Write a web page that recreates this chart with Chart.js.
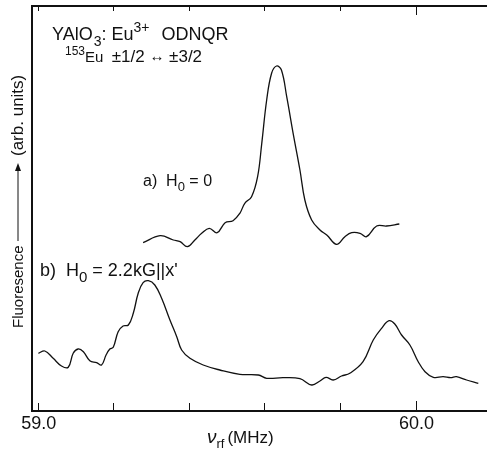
<!DOCTYPE html>
<html><head><meta charset="utf-8">
<script src="https://cdn.jsdelivr.net/npm/chart.js@4"></script>
<style>html,body{margin:0;padding:0;background:#fff}#c{display:block}</style>
</head><body>
<div style="width:487px;height:449px"><canvas id="c" width="487" height="449"></canvas></div>
<script>
// Curve a) H0 = 0 : frequency (MHz) and fluorescence (arb. units)
const freqA = [59.279,59.324,59.359,59.377,59.396,59.416,59.434,59.454,59.475,59.496,59.517,59.535,59.548,59.566,59.582,59.593,59.606,59.619,59.632,59.645,59.659,59.676,59.694,59.707,59.725,59.747,59.765,59.791,59.813,59.831,59.853,59.870,59.897,59.923,59.957];
const fluorA = [168.3,175.3,171,169.3,164.3,171,177.7,182.7,178.3,188.3,190.3,197.7,207.7,214.3,234.3,267.7,311,337.7,345,341,314.3,277.7,241,211,191,181,176,166.7,174.3,178.3,177.7,174.3,185,185,187];
// Curve b) H0 = 2.2 kG || x'
const freqB = [59.002,59.019,59.041,59.063,59.081,59.094,59.107,59.121,59.138,59.156,59.169,59.181,59.191,59.200,59.213,59.226,59.240,59.253,59.266,59.279,59.293,59.310,59.328,59.350,59.368,59.381,59.403,59.438,59.482,59.535,59.584,59.606,59.650,59.694,59.725,59.747,59.763,59.782,59.804,59.826,59.861,59.888,59.910,59.930,59.945,59.963,59.985,60.007,60.025,60.047,60.073,60.093,60.108,60.135,60.166];
const fluorB = [57.7,60,52.7,45,43.7,57.7,62,59.3,50.3,48.3,46,56,62,63.7,79.3,85,86,97.7,117.7,128.3,130.3,126,112.7,91,74.3,61,52.7,46,41,36.7,36,32.7,33.3,32.3,26,30,33.7,31,35,37.7,49.3,71,82.7,90.3,87,76,66,49.3,39.3,33.7,34.3,33.3,34.3,31,27.7];
// Axis ticks
const majorTicks = [59.0, 60.0];
const minorTicks = [59.0, 59.2, 59.4, 59.6, 59.8, 60.0];
const tickLabels = ["59.0", "60.0"];

const FONT = '"Liberation Sans", Arial, Helvetica, sans-serif';
function rich(ctx, parts, x, y) {
  let cx = x;
  for (const p of parts) {
    ctx.font = (p.style || '') + ' ' + p.size + 'px ' + FONT;
    ctx.fillText(p.t, cx, y + (p.dy || 0));
    cx += ctx.measureText(p.t).width + (p.after || 0);
  }
}

const decor = {
  id: 'decor',
  afterDraw(chart) {
    const ctx = chart.ctx, xs = chart.scales.x, ys = chart.scales.y;
    const L = xs.left, R = chart.width, T = ys.top, B = ys.bottom;
    ctx.save();
    ctx.strokeStyle = '#111'; ctx.fillStyle = '#111';
    ctx.lineWidth = 2;
    ctx.beginPath();
    ctx.moveTo(R, T); ctx.lineTo(L, T); ctx.lineTo(L, B); ctx.lineTo(R, B);
    ctx.stroke();
    ctx.lineWidth = 1;
    for (const v of minorTicks) {
      const px = Math.round(xs.getPixelForValue(v)) + 0.5;
      const big = majorTicks.includes(v) && v !== 59.0;
      ctx.beginPath();
      ctx.moveTo(px, B); ctx.lineTo(px, B - (big ? 10 : 8)); ctx.stroke();
      ctx.beginPath();
      ctx.moveTo(px, T); ctx.lineTo(px, T + (big ? 9 : 5)); ctx.stroke();
    }
    ctx.textAlign = 'center'; ctx.textBaseline = 'alphabetic';
    ctx.font = '18px ' + FONT;
    majorTicks.forEach((v, i) => {
      ctx.fillText(tickLabels[i], xs.getPixelForValue(v) + 1, 429);
    });
    ctx.textAlign = 'left';
    // x axis title
    rich(ctx, [
      {t: 'ν', size: 19, style: 'italic', after: 0},
      {t: 'rf', size: 13, dy: 5, after: 3},
      {t: '(MHz)', size: 17}
    ], 207, 443);
    // annotations
    rich(ctx, [
      {t: 'YAlO', size: 18, after: 1},
      {t: '3', size: 14, dy: 6},
      {t: ': Eu', size: 18},
      {t: '3+', size: 14, dy: -8, after: 2},
      {t: '  ODNQR', size: 18}
    ], 52, 40);
    rich(ctx, [
      {t: '153', size: 12, dy: -7},
      {t: 'Eu  ', size: 15},
      {t: '±1/2 ', size: 17},
      {t: '↔', size: 15, dy: -1},
      {t: ' ±3/2', size: 17}
    ], 65, 62);
    rich(ctx, [
      {t: 'a)  H', size: 16},
      {t: '0', size: 13, dy: 5},
      {t: ' = 0', size: 16}
    ], 143, 186);
    rich(ctx, [
      {t: 'b)  H', size: 18},
      {t: '0', size: 15, dy: 6},
      {t: ' = 2.2kG||x\'', size: 18}
    ], 40, 276);
    // y axis title (rotated)
    ctx.save();
    ctx.translate(23, 0);
    ctx.rotate(-Math.PI / 2);
    ctx.textAlign = 'left';
    ctx.font = '15px ' + FONT;
    ctx.fillText('Fluoresence', -328, 0);
    ctx.font = '17px ' + FONT;
    ctx.fillText('(arb. units)', -156, 0);
    ctx.lineWidth = 1;
    ctx.beginPath(); ctx.moveTo(-241, -5); ctx.lineTo(-168, -5); ctx.stroke();
    ctx.beginPath(); ctx.moveTo(-163, -5); ctx.lineTo(-171, -8); ctx.lineTo(-171, -2); ctx.closePath(); ctx.fill();
    ctx.restore();
    ctx.restore();
  }
};

const toPts = (xs, ys) => xs.map((x, i) => ({x, y: ys[i]}));
new Chart(document.getElementById('c'), {
  type: 'line',
  data: {
    datasets: [
      {label: 'a) H0 = 0', data: toPts(freqA, fluorA), borderColor: '#111', borderWidth: 1.3, pointRadius: 0, tension: 0.4, fill: false},
      {label: 'b) H0 = 2.2kG||x\'', data: toPts(freqB, fluorB), borderColor: '#111', borderWidth: 1.3, pointRadius: 0, tension: 0.4, fill: false}
    ]
  },
  options: {
    responsive: false, animation: false, devicePixelRatio: 1,
    layout: {padding: {left: 32, top: 6, right: 0, bottom: 38}},
    plugins: {legend: {display: false}, tooltip: {enabled: false}},
    scales: {
      x: {type: 'linear', min: 58.985, max: 60.189, display: false},
      y: {type: 'linear', min: 0, max: 405, display: false}
    }
  },
  plugins: [decor]
});
</script>
</body></html>
